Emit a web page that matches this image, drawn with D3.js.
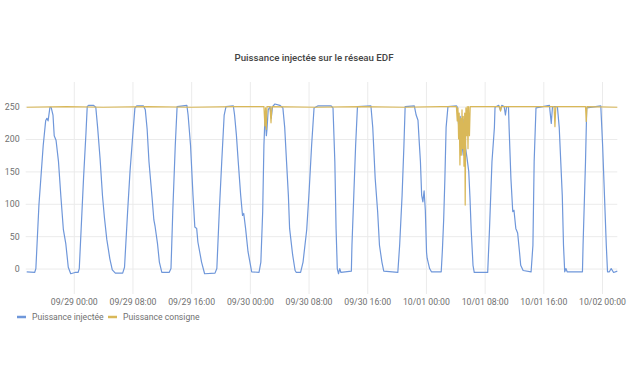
<!DOCTYPE html>
<html>
<head>
<meta charset="utf-8">
<script src="https://cdn.jsdelivr.net/npm/d3@7"></script>
<style>
  body { margin: 0; background: #fff; }
  text { font-family: Roboto, "Noto Sans", sans-serif; }
</style>
</head>
<body>
<svg id="chart" width="627" height="376"></svg>
<script>
var chartTitle = 'Puissance injectée sur le réseau EDF'
var seriesNames = ['Puissance injectée', 'Puissance consigne']
var yTicks = [0, 50, 100, 150, 200, 250]
var xTickLabels = ['09/29 00:00', '09/29 08:00', '09/29 16:00', '09/30 00:00', '09/30 08:00',
                   '09/30 16:00', '10/01 00:00', '10/01 08:00', '10/01 16:00', '10/02 00:00']

// puissance injectee (blue)
var injTimes = [
  '09/28 17:35', '09/28 18:40', '09/28 18:50', '09/28 19:15', '09/28 19:50', '09/28 20:10', '09/28 20:20',
  '09/28 20:30', '09/28 20:45', '09/28 20:55', '09/28 21:10', '09/28 21:20', '09/28 21:35', '09/28 21:55',
  '09/28 22:15', '09/28 22:35', '09/28 22:55', '09/28 23:15', '09/28 23:35', '09/29 00:10', '09/29 00:35',
  '09/29 00:45', '09/29 01:00', '09/29 01:20', '09/29 01:40', '09/29 01:50', '09/29 02:00', '09/29 02:40',
  '09/29 03:00', '09/29 03:15', '09/29 03:35', '09/29 03:55', '09/29 04:10', '09/29 04:30', '09/29 04:55',
  '09/29 05:15', '09/29 05:40', '09/29 06:40',
  '09/29 06:55', '09/29 07:20', '09/29 07:40', '09/29 08:00', '09/29 08:20', '09/29 08:35', '09/29 09:30',
  '09/29 09:45', '09/29 10:00', '09/29 10:15', '09/29 10:40', '09/29 10:55', '09/29 11:05', '09/29 11:25',
  '09/29 11:40', '09/29 12:00', '09/29 13:00',
  '09/29 13:15', '09/29 13:30', '09/29 13:50', '09/29 14:05', '09/29 15:25', '09/29 15:35', '09/29 15:55',
  '09/29 16:15', '09/29 16:30', '09/29 16:45', '09/29 16:55', '09/29 17:25', '09/29 17:50', '09/29 19:15',
  '09/29 19:30', '09/29 19:50', '09/29 20:10', '09/29 20:30', '09/29 20:45', '09/29 21:45', '09/29 21:55',
  '09/29 22:10', '09/29 22:25', '09/29 22:45', '09/29 23:00', '09/29 23:10', '09/29 23:25', '09/29 23:45',
  '09/30 00:15', '09/30 01:15',
  '09/30 01:30', '09/30 01:45', '09/30 01:55', '09/30 02:05', '09/30 02:15', '09/30 02:20', '09/30 02:30',
  '09/30 02:45', '09/30 02:55', '09/30 03:05', '09/30 03:25', '09/30 04:05', '09/30 04:30', '09/30 04:45',
  '09/30 05:00', '09/30 05:15', '09/30 05:25', '09/30 05:50', '09/30 06:10', '09/30 06:20', '09/30 06:55',
  '09/30 07:15', '09/30 07:45', '09/30 08:05', '09/30 08:25', '09/30 08:45', '09/30 09:15', '09/30 11:05',
  '09/30 11:20', '09/30 11:35', '09/30 11:45', '09/30 11:55', '09/30 12:05', '09/30 12:15', '09/30 12:25',
  '09/30 13:50',
  '09/30 13:55', '09/30 14:10', '09/30 14:25', '09/30 14:40', '09/30 16:30', '09/30 16:45', '09/30 17:05',
  '09/30 17:25', '09/30 17:40', '09/30 18:00', '09/30 18:15', '09/30 20:10',
  '09/30 20:25', '09/30 20:45', '09/30 21:00', '09/30 21:10', '09/30 22:25', '09/30 22:40', '09/30 22:55',
  '09/30 23:05', '09/30 23:15', '09/30 23:25', '09/30 23:35', '09/30 23:45', '09/30 23:55', '10/01 00:05',
  '10/01 00:10', '10/01 00:30', '10/01 00:45', '10/01 00:55', '10/01 02:05',
  '10/01 02:15', '10/01 02:25', '10/01 02:35', '10/01 02:45', '10/01 03:00', '10/01 04:10', '10/01 04:15',
  '10/01 04:30', '10/01 04:40', '10/01 04:50', '10/01 05:05', '10/01 05:10', '10/01 05:25', '10/01 05:35',
  '10/01 05:50', '10/01 06:00', '10/01 06:10', '10/01 06:25', '10/01 06:35', '10/01 08:25',
  '10/01 08:40', '10/01 09:00', '10/01 09:20', '10/01 09:25', '10/01 09:55', '10/01 10:10', '10/01 10:20',
  '10/01 10:40', '10/01 10:50', '10/01 11:00', '10/01 11:15', '10/01 11:20', '10/01 11:35', '10/01 11:50',
  '10/01 12:00', '10/01 12:15', '10/01 12:30', '10/01 12:45', '10/01 12:55', '10/01 13:15', '10/01 14:20',
  '10/01 14:35', '10/01 14:45', '10/01 15:00', '10/01 16:50', '10/01 17:05', '10/01 17:15', '10/01 17:55',
  '10/01 18:10', '10/01 18:35', '10/01 18:45', '10/01 18:55', '10/01 19:05', '10/01 19:15', '10/01 21:20',
  '10/01 21:25', '10/01 21:45', '10/01 21:55', '10/01 23:50', '10/02 00:05', '10/02 00:20', '10/02 00:35',
  '10/02 00:45', '10/02 01:00', '10/02 01:15', '10/02 01:35', '10/02 02:05'
]
var injValues = [
  -5, -6, 0, 98, 190, 228, 232,
  228, 249, 249, 237, 205, 198, 165,
  110, 60, 38, 2, -8, -6, -6,
  0, 60, 140, 210, 250, 252, 252,
  249, 218, 170, 112, 80, 45, 15,
  -2, -7, -7,
  2, 87, 150, 200, 248, 251, 251,
  245, 215, 165, 110, 75, 65, 38,
  10, -6, -6,
  0, 90, 190, 250, 252, 237, 190,
  113, 64, 62, 41, 10, -8, -7,
  0, 88, 165, 237, 250, 251, 237,
  206, 165, 113, 82, 85, 62, 26,
  -5, -6,
  10, 88, 190, 240, 205, 215, 245,
  250, 232, 250, 254, 252, 248, 218,
  165, 113, 62, 21, -3, -6, -6,
  10, 60, 120, 190, 248, 251, 251,
  248, 165, 62, 0, -8, 0, -6,
  -4,
  36, 113, 190, 250, 251, 218, 139,
  88, 36, 10, -4, -6,
  36, 113, 190, 250, 251, 237, 229,
  196, 165, 113, 103, 120, 90, 25,
  16, 0, -5, -5, -5,
  30, 75, 139, 218, 250, 251, 250,
  215, 235, 200, 175, 230, 185, 172,
  150, 110, 60, 5, -6, -6,
  62, 165, 218, 249, 252, 244, 252,
  250, 237, 250, 250, 218, 139, 88,
  90, 62, 55, 26, 5, -3, -5,
  36, 165, 248, 252, 224, 250, 250,
  218, 113, 36, -5, 0, -5, -5,
  36, 165, 248, 251, 190, 113, 36,
  -5, -5, 0, -6, -4
]

// puissance consigne (yellow)
var consTimes = [
  '09/28 17:35', '09/28 23:00', '09/29 04:00', '09/29 10:00', '09/29 16:00', '09/29 22:00',
  '09/30 01:55', '09/30 02:03', '09/30 02:08', '09/30 02:14', '09/30 02:20', '09/30 02:45',
  '09/30 02:53', '09/30 03:00', '09/30 09:00', '09/30 15:00', '09/30 21:00', '10/01 02:00',
  '10/01 04:09', '10/01 04:16', '10/01 04:22', '10/01 04:27', '10/01 04:32', '10/01 04:38',
  '10/01 04:44', '10/01 04:49', '10/01 04:55', '10/01 05:00', '10/01 05:05', '10/01 05:11',
  '10/01 05:17', '10/01 05:21', '10/01 05:27', '10/01 05:33', '10/01 05:38', '10/01 05:44',
  '10/01 05:49', '10/01 05:56', '10/01 06:02', '10/01 10:03', '10/01 10:10', '10/01 10:17',
  '10/01 17:28', '10/01 17:35', '10/01 17:42', '10/01 21:45', '10/01 21:51', '10/01 21:57',
  '10/02 02:05'
]
var consValues = [
  249, 250, 249, 250, 249, 250,
  250, 220, 248, 215, 250, 250,
  225, 250, 249, 250, 249, 250,
  250, 228, 248, 200, 240, 160,
  232, 175, 245, 185, 235, 158,
  240, 98, 248, 205, 250, 185,
  250, 205, 250, 250, 243, 250,
  250, 219, 250, 250, 227, 250,
  249
]

var seriesColors = ['#6f97da', '#d9b858']

var parseTime = d3.timeParse('%m/%d %H:%M')
var injData = injTimes.map(function(t, i) { return {t: parseTime(t), v: injValues[i]} })
var consData = consTimes.map(function(t, i) { return {t: parseTime(t), v: consValues[i]} })

var plotLeft = 26.7, plotRight = 617.3, plotTop = 82, plotBottom = 288

var svg = d3.select('#chart')

var xScale = d3.scaleTime()
    .domain(d3.extent(injData, function(d) { return d.t }))
    .range([plotLeft, plotRight])
var yScale = d3.scaleLinear()
    .domain([-30, 288])
    .range([plotBottom, plotTop])

// title
svg.append('text')
    .attr('x', 314)
    .attr('y', 61)
    .attr('text-anchor', 'middle')
    .attr('font-size', 9.7)
    .attr('font-weight', 500)
    .attr('fill', '#444')
    .text(chartTitle)

// horizontal grid + y labels
var yAxis = d3.axisLeft(yScale)
    .tickValues(yTicks)
    .tickSize(-(plotRight - plotLeft + 1))
    .tickPadding(6)
var gy = svg.append('g')
    .attr('transform', 'translate(' + (plotLeft - 1) + ',0)')
    .call(yAxis)
gy.select('.domain').remove()
gy.selectAll('line').attr('stroke', '#ebebeb')
gy.selectAll('text')
    .attr('font-size', 8.8)
    .attr('fill', '#707070')
    .attr('font-family', 'Roboto, sans-serif')

// vertical grid + x labels
var xTicks = xTickLabels.map(function(s) { return parseTime(s) })
var xAxis = d3.axisBottom(xScale)
    .tickValues(xTicks)
    .tickFormat(d3.timeFormat('%m/%d %H:%M'))
    .tickSize(plotBottom - plotTop + 6)
    .tickPadding(5)
var gx = svg.append('g')
    .attr('transform', 'translate(0,' + plotTop + ')')
    .call(xAxis)
gx.select('.domain').remove()
gx.selectAll('line').attr('stroke', '#ebebeb')
gx.selectAll('text')
    .attr('font-size', 8.7)
    .attr('fill', '#707070')
    .attr('font-family', 'Roboto, sans-serif')

var line = d3.line()
    .x(function(d) { return xScale(d.t) })
    .y(function(d) { return yScale(d.v) })

svg.append('path')
    .datum(injData)
    .attr('fill', 'none')
    .attr('stroke', seriesColors[0])
    .attr('stroke-width', 1.2)
    .attr('stroke-linejoin', 'round')
    .attr('d', line)

svg.append('path')
    .datum(consData)
    .attr('fill', 'none')
    .attr('stroke', seriesColors[1])
    .attr('stroke-width', 1.2)
    .attr('stroke-linejoin', 'round')
    .attr('d', line)

// legend
var legendX = [17, 108]
var legend = svg.selectAll('.legend')
    .data(seriesNames)
    .enter()
    .append('g')
    .attr('class', 'legend')
    .attr('transform', function(d, i) { return 'translate(' + legendX[i] + ',317)' })
legend.append('line')
    .attr('x1', 0).attr('x2', 9)
    .attr('y1', 0).attr('y2', 0)
    .attr('stroke', function(d, i) { return seriesColors[i] })
    .attr('stroke-width', 2.5)
legend.append('text')
    .attr('x', 15)
    .attr('y', 3.2)
    .attr('font-size', 8.6)
    .attr('fill', '#707070')
    .text(function(d) { return d })
</script>
</body>
</html>
